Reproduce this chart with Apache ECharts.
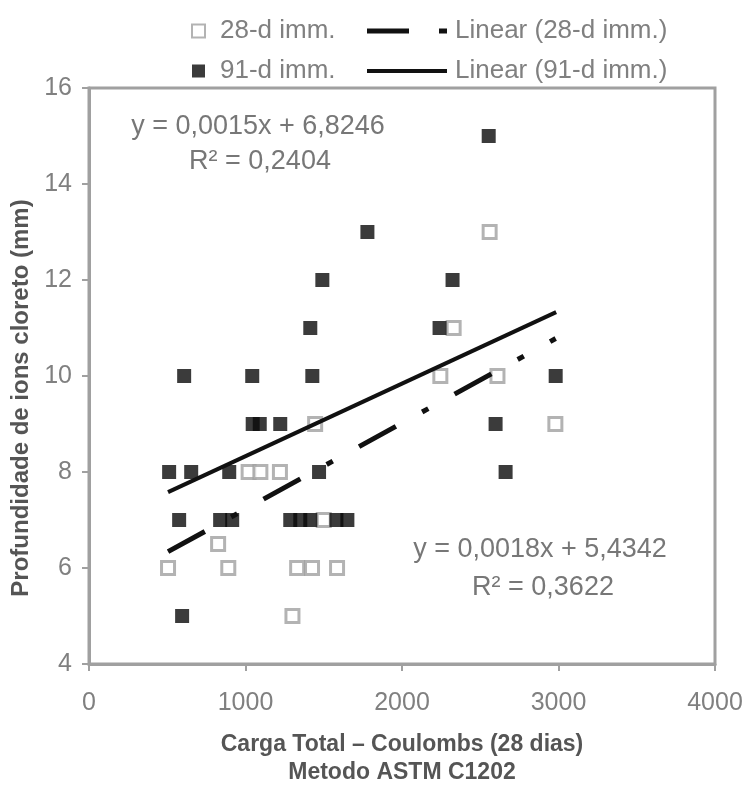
<!DOCTYPE html>
<html>
<head>
<meta charset="utf-8">
<script src="https://cdn.jsdelivr.net/npm/echarts@6/dist/echarts.min.js"></script>
<style>
html,body{margin:0;padding:0;background:#fff;}
#c{width:747px;height:787px;}
</style>
</head>
<body>
<div id="c"></div>
<script>
// ---- data ----
const x28 = [505, 825, 890, 1020, 1095, 1220, 1300, 1330, 1425, 1585, 1445, 1500, 2245, 2330, 2560, 2610, 2980];
const y28 = [6, 6.5, 6, 8, 8, 8, 5, 6, 6, 6, 9, 7, 10, 11, 13, 10, 9];

const x91 = [512, 653, 576, 595, 608, 896, 838, 915, 1043, 1046, 1091, 1222, 1427, 1414, 1491, 1779, 1470, 1286, 1350, 1414, 1581, 1651, 2240, 2323, 2554, 2598, 2662, 2982];
const y91 = [8, 8, 7, 5, 10, 8, 7, 7, 10, 9, 9, 9, 10, 11, 12, 13, 8, 7, 7, 7, 7, 7, 11, 12, 15, 9, 8, 10];

// trend-line end points (as drawn)
const trend28X = [505, 2982];
const trend28Y = [6.34, 10.78];
const trend91X = [505, 2985];
const trend91Y = [7.58, 11.33];

const seriesNames = ['28-d imm.', '91-d imm.', 'Linear (28-d imm.)', 'Linear (91-d imm.)'];
const eq28 = ['y = 0,0018x + 5,4342', 'R² = 0,3622'];
const eq91 = ['y = 0,0015x + 6,8246', 'R² = 0,2404'];
const xTitle = 'Carga Total – Coulombs (28 dias)';
const xSubTitle = 'Metodo ASTM C1202';
const yTitle = 'Profundidade de ions cloreto (mm)';

const zip = (a, b) => a.map((v, i) => [v, b[i]]);

const FONT = 'Liberation Sans, Arial, sans-serif';
const DASH = [42, 30, 7, 30];
const chart = echarts.init(document.getElementById('c'), null, {renderer: 'canvas'});

chart.setOption({
  animation: false,
  backgroundColor: '#fff',
  textStyle: {fontFamily: FONT},
  grid: {left: 89, right: 32, top: 88, bottom: 123, containLabel: false, outerBoundsMode: 'none',
         show: true, borderColor: '#a0a0a0', borderWidth: 3, backgroundColor: 'transparent'},
  legend: [
    {
      data: [{name: seriesNames[0], icon: 'rect'}, {name: seriesNames[1], icon: 'rect'}],
      orient: 'vertical', left: 186, top: 13,
      itemWidth: 13, itemHeight: 13, itemGap: 14,
      textStyle: {fontSize: 26, color: '#808080', fontFamily: FONT, padding: [0, 0, 0, 10]}
    },
    {
      data: [
        {name: seriesNames[2], icon: 'path://M0,0h42v5h-42z M72,0h8v5h-8z'},
        {name: seriesNames[3], icon: 'path://M0,0h80v4h-80z'}
      ],
      orient: 'vertical', left: 362, top: 13,
      itemWidth: 80, itemHeight: 13, itemGap: 14,
      itemStyle: {borderWidth: 0},
      textStyle: {fontSize: 26, color: '#808080', fontFamily: FONT, padding: [0, 0, 0, 3]}
    }
  ],
  xAxis: {
    type: 'value', min: 0, max: 4000, interval: 1000,
    name: xTitle + '\n' + xSubTitle, nameLocation: 'middle', nameGap: 67,
    nameTextStyle: {fontSize: 23, fontWeight: 'bold', color: '#555', lineHeight: 28, fontFamily: FONT},
    axisLine: {show: true, lineStyle: {color: '#a0a0a0', width: 3}},
    axisTick: {show: true, length: 7, lineStyle: {color: '#a0a0a0', width: 2}},
    axisLabel: {fontSize: 25, color: '#808080', margin: 27, fontFamily: FONT, formatter: v => String(v)},
    splitLine: {show: false}
  },
  yAxis: {
    type: 'value', min: 4, max: 16, interval: 2,
    name: yTitle, nameLocation: 'middle', nameGap: 44, nameRotate: 90,
    nameTextStyle: {fontSize: 24, fontWeight: 'bold', color: '#555', fontFamily: FONT, padding: [0, 44, 0, 0]},
    axisLine: {show: true, lineStyle: {color: '#a0a0a0', width: 3}},
    axisTick: {show: true, length: 7, lineStyle: {color: '#a0a0a0', width: 2}},
    axisLabel: {fontSize: 25, color: '#808080', margin: 17, fontFamily: FONT},
    splitLine: {show: false}
  },
  series: [
    {
      name: seriesNames[0], type: 'scatter', symbol: 'rect', symbolSize: 13, z: 2,
      itemStyle: {color: '#ffffff', borderColor: '#a0a0a0', borderWidth: 3},
      data: zip(x28, y28)
    },
    {
      name: seriesNames[1], type: 'scatter', symbol: 'rect', symbolSize: 14, z: 3,
      itemStyle: {color: '#0a0a0a'},
      data: zip(x91, y91)
    },
    {
      name: seriesNames[2], type: 'line', symbol: 'none', showSymbol: false, z: 4,
      lineStyle: {color: '#111111', width: 5, type: DASH},
      itemStyle: {color: '#111111'},
      data: zip(trend28X, trend28Y)
    },
    {
      name: seriesNames[3], type: 'line', symbol: 'none', showSymbol: false, z: 4,
      lineStyle: {color: '#111111', width: 4},
      itemStyle: {color: '#111111'},
      data: zip(trend91X, trend91Y)
    }
  ],
  graphic: [
    {type: 'text', style: {text: eq91[0], fontSize: 27, fill: '#777', fontFamily: FONT, align: 'center', verticalAlign: 'middle', x: 258, y: 127}},
    {type: 'text', style: {text: eq91[1], fontSize: 27, fill: '#777', fontFamily: FONT, align: 'center', verticalAlign: 'middle', x: 260, y: 162}},
    {type: 'text', style: {text: eq28[0], fontSize: 27, fill: '#777', fontFamily: FONT, align: 'center', verticalAlign: 'middle', x: 540, y: 550}},
    {type: 'text', style: {text: eq28[1], fontSize: 27, fill: '#777', fontFamily: FONT, align: 'center', verticalAlign: 'middle', x: 543, y: 588}}
  ]
});
</script>
</body>
</html>
